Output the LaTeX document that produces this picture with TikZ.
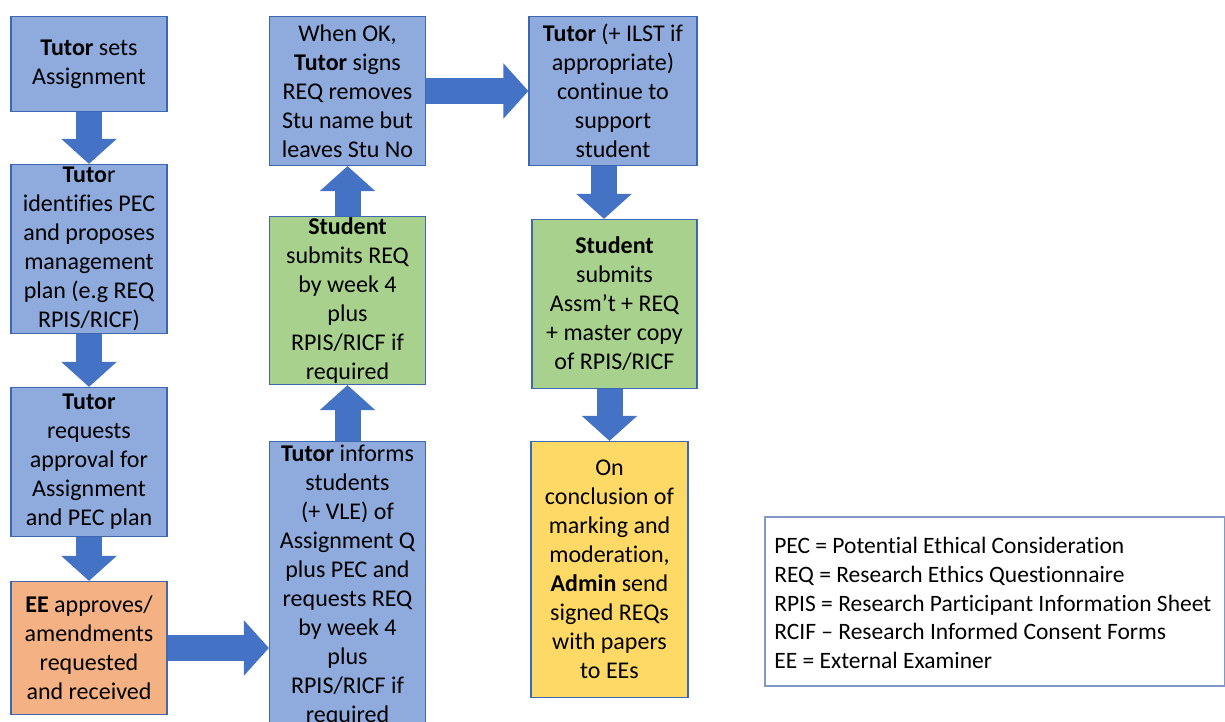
\documentclass[tikz,border=0pt]{standalone}
\usepackage{fontspec}
\setmainfont{Carlito}[Ligatures={TeX,NoCommon}]
\usepackage{xcolor}
\usetikzlibrary{positioning,arrows.meta}
\definecolor{boxblue}{HTML}{8FAADC}
\definecolor{boxgreen}{HTML}{A9D18E}
\definecolor{boxorange}{HTML}{F4B183}
\definecolor{boxyellow}{HTML}{FFD966}
\definecolor{edgeblue}{HTML}{3E67B1}
\definecolor{arrowblue}{HTML}{4472C4}
\definecolor{keyedge}{HTML}{8497C9}

\begin{document}
\begin{tikzpicture}[x=1pt,y=-1pt,
        stage/.style={rectangle,draw=edgeblue,line width=1.2pt,fill=boxblue,
          inner sep=0pt,minimum width=156pt,align=center,
          font=\fontsize{24}{29}\selectfont},
        studentstage/.style={stage,fill=boxgreen},
        eestage/.style={stage,fill=boxorange},
        adminstage/.style={stage,fill=boxyellow},
        flow/.style={arrowblue,line width=26pt,
          -{Triangle[length=25pt,width=54pt]}}]
      \useasboundingbox (0,0) rectangle (1225,722);
      % left column
      \node (sets) at (89,64) [stage,minimum height=95pt]
        {{\bfseries Tutor} sets\\Assignment};
      \node (ident) at (89,249) [stage,minimum height=169pt]
        {{\bfseries Tuto}r\\identifies PEC\\and proposes\\management\\plan (e.g REQ\\RPIS/RICF)};
      \node (approval) at (89,462) [stage,minimum height=149pt]
        {{\bfseries Tutor}\\requests\\approval for\\Assignment\\and PEC plan};
      \node (ee) at (89,648) [eestage,minimum height=133pt]
        {{\bfseries EE} approves/\\amendments\\requested\\and received};
      % middle column
      \node (inform) at (347.5,586) [stage,minimum height=289pt]
        {{\bfseries Tutor} informs\\students\\(+ VLE) of\\Assignment Q\\plus PEC and\\requests REQ\\by week 4\\plus\\RPIS/RICF if\\required};
      \node (subreq) at (347.5,300.5) [studentstage,minimum height=168pt]
        {{\bfseries Student}\\submits REQ\\by week 4\\plus\\RPIS/RICF if\\required};
      \node (signs) at (347.5,91) [stage,minimum height=149pt]
        {When OK,\\{\bfseries Tutor} signs\\REQ removes\\Stu name but\\leaves Stu No};
      % right column
      \node (support) at (613,91) [stage,minimum width=168pt,minimum height=149pt]
        {{\bfseries Tutor} (+ ILST if\\appropriate)\\continue to\\support\\student};
      \node (subassm) at (614.5,304) [studentstage,minimum width=165pt,minimum height=169pt]
        {{\bfseries Student}\\submits\\Assm’t + REQ\\+ master copy\\of RPIS/RICF};
      \node (papers) at (609.5,569.5) [adminstage,minimum width=157pt,minimum height=256pt]
        {On\\conclusion of\\marking and\\moderation,\\{\bfseries Admin} send\\signed REQs\\with papers\\to EEs};
      % key
      \node (key) at (995,601.5) [rectangle,draw=keyedge,line width=1.8pt,fill=white,
          minimum width=460pt,minimum height=169pt] {};
      \node (keytext) at ([xshift=10pt,yshift=-1.5pt]key.west) [anchor=west,inner sep=0pt,
          align=left,font=\fontsize{23.5}{28.7}\selectfont]
        {PEC = Potential Ethical Consideration\\REQ = Research Ethics Questionnaire\\RPIS = Research Participant Information Sheet\\RCIF -- Research Informed Consent Forms\\EE = External Examiner};
      % arrows
      \draw[flow] (sets) -- (ident);
      \draw[flow] (ident) -- (approval);
      \draw[flow] (approval) -- (ee);
      \draw[flow] (ee.east) -- (ee.east -| inform.west);
      \draw[flow] (inform) -- (subreq);
      \draw[flow] (subreq) -- (signs);
      \draw[flow] (signs) -- (support);
      \draw[flow] ([xshift=-9pt]support.south) -- ([xshift=-9pt]support.south |- subassm.north);
      \draw[flow] (subassm.south -| papers) -- (papers);
    \end{tikzpicture}
\end{document}
